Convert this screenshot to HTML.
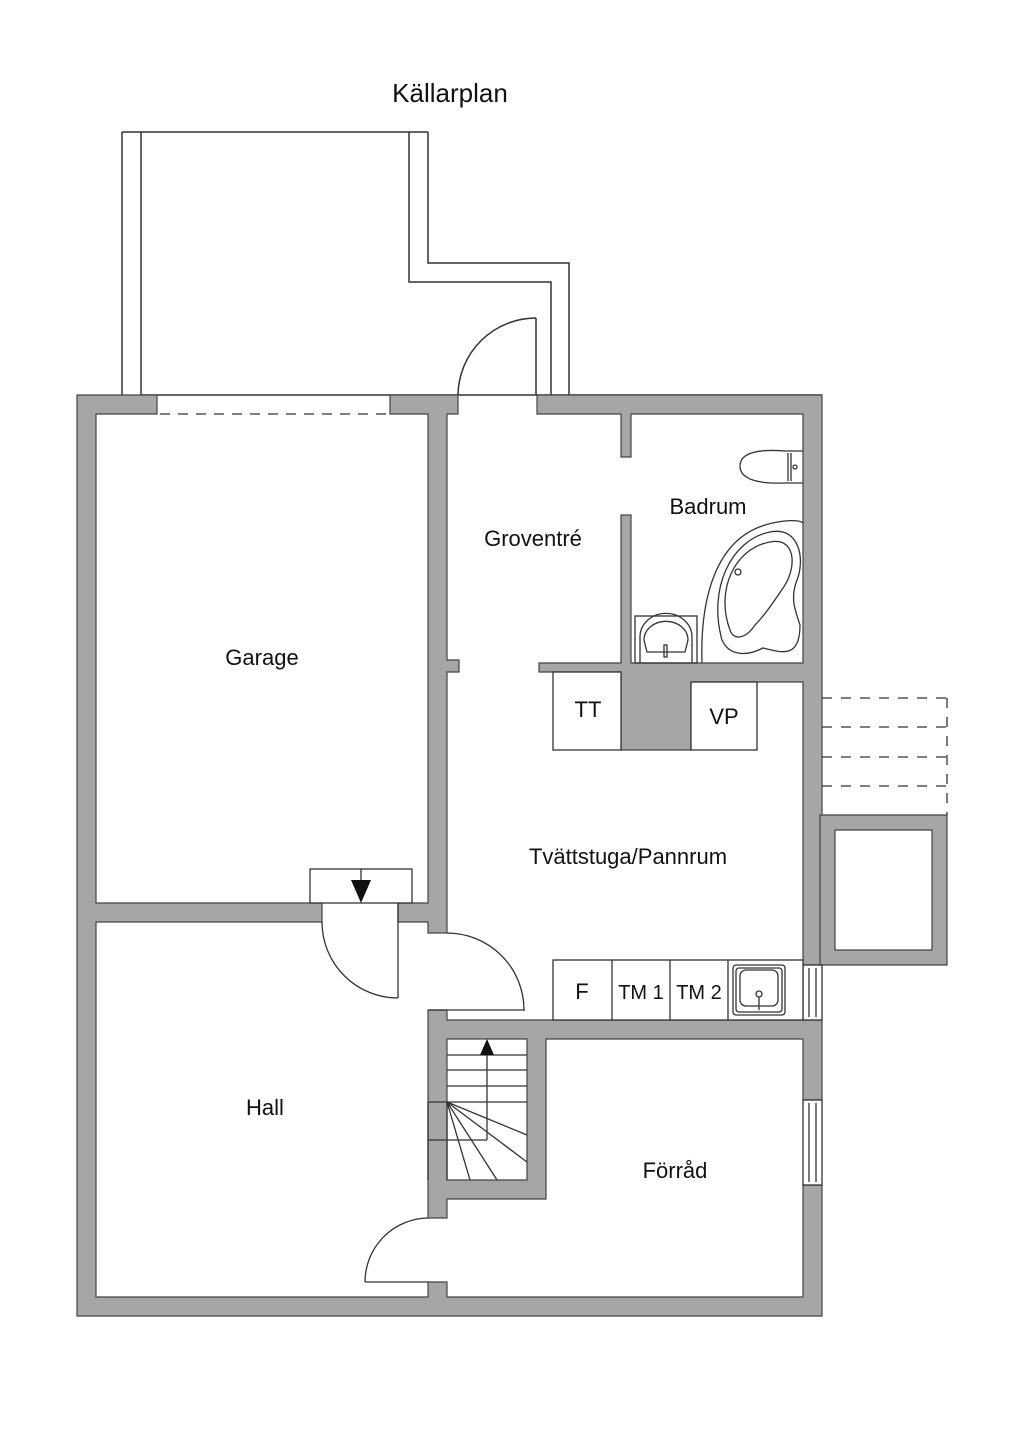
<!DOCTYPE html>
<html><head><meta charset="utf-8"><style>
html,body{margin:0;padding:0;background:#fff;}
svg{display:block;}
text{font-family:"Liberation Sans",sans-serif;fill:#111;}
</style></head><body>
<svg width="1024" height="1448" viewBox="0 0 1024 1448" xmlns="http://www.w3.org/2000/svg">
<g stroke="#333" stroke-width="1.5" fill="none">
<!-- outdoor structure top -->
<line x1="122" y1="132" x2="428" y2="132"/>
<line x1="122" y1="132" x2="122" y2="395"/>
<line x1="141" y1="132" x2="141" y2="395"/>
<polyline points="409,132 409,282 551,282 551,395"/>
<polyline points="428,132 428,263 569,263 569,395"/>
<line x1="141" y1="395" x2="822" y2="395"/>
<!-- entrance door -->
<line x1="536" y1="318" x2="536" y2="395"/>
<path d="M536,318 A78,78 0 0 0 458,395"/>
</g>
<!-- walls -->
<g fill="#a6a6a6" stroke="#444" stroke-width="1.2">
<path d="M77,395 H157 V414 H96 V903 H322 V922 H96 V1297 H428 V1282 H447 V1297 H803 V1185 H822 V1316 H77 Z"/>
<path d="M390,395 H458 V414 H447 V660 H459 V672 H447 V933 H428 V922 H398 V903 H428 V414 H390 Z"/>
<path d="M537,395 H822 V965 H803 V682 H691 V750 H621 V672 H539 V663 H621 V515 H631 V663 H803 V414 H631 V457 H621 V414 H537 Z"/>
<path d="M822,1020 V1100 H803 V1039 H546 V1199 H447 V1218 H428 V1010 H447 V1020 Z"/>
<path d="M447,1039 V1180 H527 V1039 Z" fill="#fff"/>
<!-- right annex -->
<path d="M820,815 H947 V965 H820 Z M835,830 V950 H932 V830 Z" fill-rule="evenodd"/>
</g>
<g stroke="#333" stroke-width="1.3" fill="none">
<!-- garage door dashed -->
<line x1="160" y1="414" x2="388" y2="414" stroke-dasharray="10,8"/>
<!-- dashed deck right -->
<g stroke-dasharray="10,9">
<line x1="822" y1="698" x2="947" y2="698"/>
<line x1="822" y1="727" x2="947" y2="727"/>
<line x1="822" y1="757" x2="947" y2="757"/>
<line x1="822" y1="786" x2="947" y2="786"/>
<line x1="947" y1="698" x2="947" y2="815"/>
</g>
<!-- windows -->
<rect x="803" y="965" width="19" height="55" fill="#fff"/>
<line x1="809" y1="968" x2="809" y2="1017"/><line x1="816" y1="968" x2="816" y2="1017"/>
<rect x="803" y="1100" width="19" height="85" fill="#fff"/>
<line x1="809" y1="1103" x2="809" y2="1182"/><line x1="816" y1="1103" x2="816" y2="1182"/>
<!-- garage/hall door -->
<rect x="310" y="869" width="102" height="34" fill="#fff"/>
<line x1="361" y1="869" x2="361" y2="880"/>
<line x1="398" y1="903" x2="398" y2="998"/>
<path d="M322,922 A76,76 0 0 0 398,998"/>
<!-- tvatt door -->
<line x1="428" y1="1010" x2="525" y2="1010"/>
<path d="M447,933 A77,77 0 0 1 524,1010"/>
<!-- hall bottom door -->
<line x1="365" y1="1282" x2="428" y2="1282"/>
<path d="M428,1218 A64,64 0 0 0 365,1282"/>
<!-- TT VP -->
<rect x="553" y="672" width="68" height="78" fill="#fff"/>
<rect x="691" y="682" width="66" height="68" fill="#fff"/>
<!-- appliance row -->
<rect x="553" y="960" width="250" height="60" fill="#fff"/>
<line x1="612" y1="960" x2="612" y2="1020"/>
<line x1="670" y1="960" x2="670" y2="1020"/>
<line x1="728" y1="960" x2="728" y2="1020"/>
<rect x="733" y="965" width="52" height="50" rx="3"/>
<rect x="736" y="968" width="46" height="44" rx="3"/>
<rect x="740" y="970" width="38" height="36" rx="6"/>
<circle cx="759" cy="994" r="3"/>
<line x1="759" y1="997" x2="759" y2="1010"/>
<!-- stairs -->
<line x1="447" y1="1055" x2="527" y2="1055"/>
<line x1="447" y1="1070" x2="527" y2="1070"/>
<line x1="447" y1="1086" x2="527" y2="1086"/>
<line x1="428" y1="1102" x2="527" y2="1102"/>
<line x1="428" y1="1140" x2="487" y2="1140"/>
<line x1="428" y1="1102" x2="428" y2="1180"/>
<line x1="447" y1="1102" x2="447" y2="1180"/>
<line x1="447" y1="1102" x2="527" y2="1135"/>
<line x1="447" y1="1102" x2="527" y2="1162"/>
<line x1="447" y1="1102" x2="497" y2="1180"/>
<line x1="447" y1="1102" x2="470" y2="1180"/>
<line x1="487" y1="1140" x2="487" y2="1050"/>
<!-- sink bathroom -->
<rect x="635" y="616" width="62" height="47"/>
<path d="M640,663 V637 A22,20 0 0 1 692,637 V663"/>
<path d="M644,640 A20,17 0 0 1 688,640 L685,652 H647 Z"/>
<rect x="664" y="645" width="3" height="12"/>
<!-- toilet -->
<path d="M803,451 H785 C760,449 740,452 740,466 C740,480 760,484 785,483 H803"/>
<line x1="788" y1="453" x2="788" y2="481"/>
<line x1="791" y1="453" x2="791" y2="481"/>
<circle cx="795" cy="467" r="2"/>
<!-- tub -->
<path d="M702,663 C700,600 715,540 765,525 C785,519 800,520 803,523"/>
<path d="M722,640 C708,590 730,540 770,532 C800,526 805,560 797,580 C790,598 795,610 800,625 C800,660 780,652 763,648 C750,655 730,658 722,640 Z"/>
<path d="M730,630 C715,590 735,548 770,542 C795,537 797,565 785,585 C775,600 765,615 755,625 C745,640 733,640 730,630 Z"/>
<circle cx="738" cy="572" r="3"/>
</g>
<!-- arrows -->
<polygon points="351,880 371,880 361,903" fill="#111"/>
<polygon points="480,1055 494,1055 487,1039" fill="#111"/>
<!-- labels -->
<text x="450" y="102" font-size="26" text-anchor="middle">Källarplan</text>
<text x="262" y="665" font-size="22" text-anchor="middle">Garage</text>
<text x="533" y="546" font-size="22" text-anchor="middle">Groventré</text>
<text x="708" y="514" font-size="22" text-anchor="middle">Badrum</text>
<text x="588" y="717" font-size="22" text-anchor="middle">TT</text>
<text x="724" y="724" font-size="22" text-anchor="middle">VP</text>
<text x="628" y="864" font-size="22" text-anchor="middle">Tvättstuga/Pannrum</text>
<text x="582" y="999" font-size="22" text-anchor="middle">F</text>
<text x="641" y="999" font-size="20" text-anchor="middle">TM 1</text>
<text x="699" y="999" font-size="20" text-anchor="middle">TM 2</text>
<text x="265" y="1115" font-size="22" text-anchor="middle">Hall</text>
<text x="675" y="1178" font-size="22" text-anchor="middle">Förråd</text>
</svg>
</body></html>
